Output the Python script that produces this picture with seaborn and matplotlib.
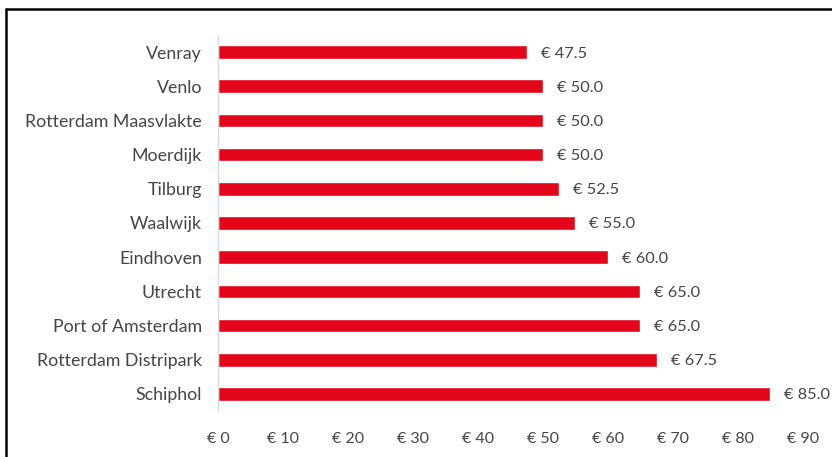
import matplotlib
matplotlib.use("Agg")
import matplotlib.pyplot as plt
import seaborn as sns
import pandas as pd
from matplotlib.lines import Line2D

locations = ["Venray", "Venlo", "Rotterdam Maasvlakte", "Moerdijk", "Tilburg",
             "Waalwijk", "Eindhoven", "Utrecht", "Port of Amsterdam",
             "Rotterdam Distripark", "Schiphol"]
prices = [47.5, 50.0, 50.0, 50.0, 52.5, 55.0, 60.0, 65.0, 65.0, 67.5, 85.0]
x_ticks = [0, 10, 20, 30, 40, 50, 60, 70, 80, 90]

sns.set_theme(style="white")
plt.rcParams["font.family"] = ["Lato", "DejaVu Sans"]

text_color = "#454545"
bar_color = "#E3061A"

df = pd.DataFrame({"location": locations, "price": prices})

fig = plt.figure(figsize=(8.32, 4.57), dpi=100)
ax = fig.add_axes([0.262, 0.1007, 0.703, 0.8227])

sns.barplot(data=df, x="price", y="location", orient="h", color=bar_color,
            width=0.4, saturation=1, ax=ax)

ax.set_xlim(0, 90)
ax.set_ylim(len(locations) - 0.5, -0.5)
ax.set_xticks(x_ticks)
ax.set_xticklabels([f"€ {t}" for t in x_ticks])
ax.set_xlabel("")
ax.set_ylabel("")

for side in ["top", "right", "bottom"]:
    ax.spines[side].set_visible(False)
ax.spines["left"].set_color("#D9D9D9")
ax.spines["left"].set_linewidth(1.0)

ax.tick_params(axis="x", length=0, pad=15, labelsize=11.5, labelcolor=text_color)
ax.tick_params(axis="y", length=0, pad=11.5, labelsize=12.8, labelcolor=text_color)

for i, v in enumerate(prices):
    ax.annotate(f"€ {v:.1f}", xy=(v, i), xytext=(10, 0), textcoords="offset points",
                va="center_baseline", ha="left", fontsize=11.8, color=text_color)

# outer frame (top and left edges)
fig.add_artist(Line2D([0.0072, 1.0], [0.98, 0.98], transform=fig.transFigure,
                      color="black", linewidth=1.8))
fig.add_artist(Line2D([0.0072, 0.0072], [0.0, 0.98], transform=fig.transFigure,
                      color="black", linewidth=1.8))

fig.savefig("out.png", dpi=100)
